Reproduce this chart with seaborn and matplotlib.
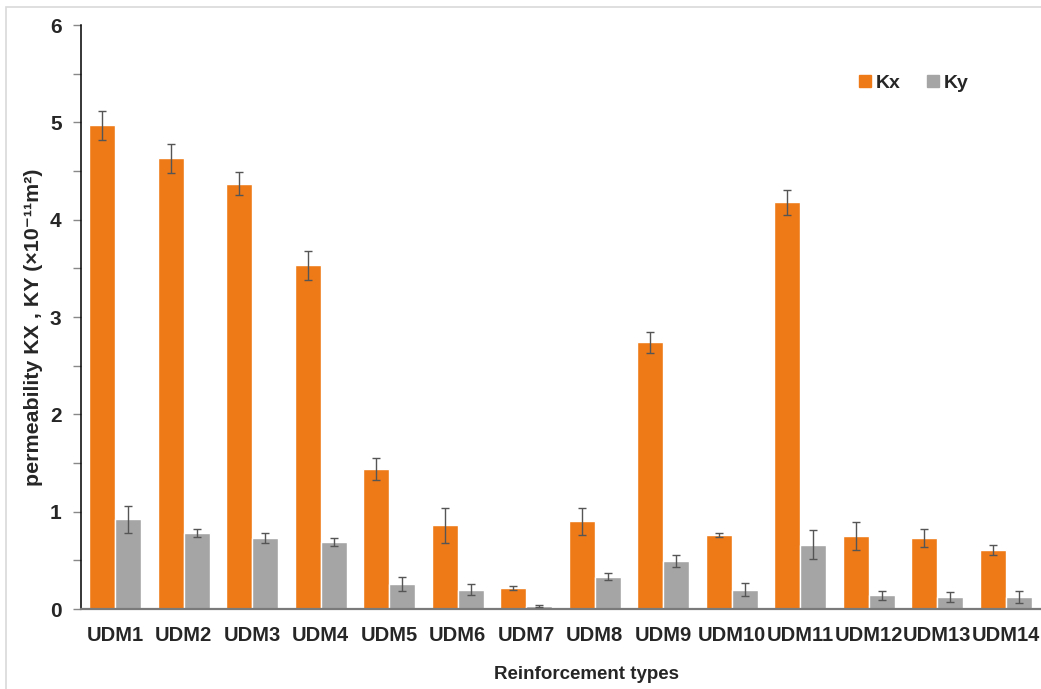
import numpy as np
import pandas as pd
import matplotlib
matplotlib.use("Agg")
import matplotlib.pyplot as plt
from matplotlib.ticker import MultipleLocator
from matplotlib.patches import Rectangle
from matplotlib.lines import Line2D
import seaborn as sns

categories = ["UDM1", "UDM2", "UDM3", "UDM4", "UDM5", "UDM6", "UDM7",
              "UDM8", "UDM9", "UDM10", "UDM11", "UDM12", "UDM13", "UDM14"]
kx = [4.97, 4.63, 4.37, 3.53, 1.44, 0.86, 0.22, 0.90, 2.74, 0.76, 4.18, 0.75, 0.73, 0.61]
kx_err = [0.15, 0.15, 0.12, 0.15, 0.11, 0.18, 0.02, 0.14, 0.11, 0.02, 0.13, 0.14, 0.09, 0.05]
ky = [0.92, 0.78, 0.73, 0.69, 0.26, 0.20, 0.03, 0.33, 0.49, 0.20, 0.66, 0.14, 0.12, 0.12]
ky_err = [0.14, 0.04, 0.05, 0.04, 0.07, 0.06, 0.01, 0.035, 0.06, 0.07, 0.15, 0.05, 0.05, 0.06]
series = ["Kx", "Ky"]
colors = {"Kx": "#EE7A17", "Ky": "#A5A5A5"}

sns.set_theme(style="white")
plt.rcParams["font.family"] = ["Liberation Sans", "DejaVu Sans"]

df = pd.DataFrame({
    "type": categories * 2,
    "series": ["Kx"] * len(categories) + ["Ky"] * len(categories),
    "value": kx + ky,
})
errs = {"Kx": kx_err, "Ky": ky_err}

fig = plt.figure(figsize=(10.41, 6.89), dpi=100)
ax = fig.add_axes([0.0778, 0.1161, 0.9212, 0.8476])

sns.barplot(data=df, x="type", y="value", hue="series", order=categories,
            hue_order=series, palette=colors, width=0.76, errorbar=None,
            saturation=1, ax=ax, legend=False)

# error bars centred on each drawn bar
for cont, s in zip(ax.containers, series):
    xs = [p.get_x() + p.get_width() / 2 for p in cont.patches]
    hs = [p.get_height() for p in cont.patches]
    ax.errorbar(xs, hs, yerr=errs[s], fmt="none", ecolor="#555555",
                elinewidth=1.0, capsize=3, capthick=1.0, zorder=5)

ax.set_xlim(-0.5, len(categories) - 0.5)
ax.set_ylim(0, 6)
ax.yaxis.set_major_locator(MultipleLocator(1))
ax.yaxis.set_minor_locator(MultipleLocator(0.5))
ax.tick_params(axis="y", which="both", left=True, length=6, width=1,
               color="#888888", pad=8)
ax.tick_params(axis="x", bottom=False, pad=6)

for lbl in ax.get_yticklabels():
    lbl.set_fontsize(15)
    lbl.set_fontweight("bold")
for lbl in ax.get_xticklabels():
    lbl.set_fontsize(14.5)
    lbl.set_fontweight("bold")

sns.despine(ax=ax, top=True, right=True)
ax.spines["left"].set_color("black")
ax.spines["left"].set_linewidth(1.1)
ax.spines["bottom"].set_color("#7a7a7a")
ax.spines["bottom"].set_linewidth(1.6)

ax.set_xlabel("Reinforcement types", fontsize=13.5, fontweight="bold")
ax.xaxis.set_label_coords(0.527, -0.113)
ax.xaxis.label.set_va("center")
ax.set_ylabel("permeability KX , KY (×10⁻¹¹m²)", fontsize=15.4,
              fontweight="bold")
ax.yaxis.set_label_coords(-0.05, 0.483)
ax.yaxis.label.set_va("center")

handles = [Line2D([0], [0], marker="s", linestyle="none", markersize=9,
                  markerfacecolor=colors[s], markeredgecolor=colors[s])
           for s in series]
ax.legend(handles, series, loc="upper right", bbox_to_anchor=(0.944, 0.946),
          ncol=2, frameon=False, handletextpad=0.05, columnspacing=1.2,
          handlelength=1.0, prop={"weight": "bold", "size": 14})

# thin outer frame
fig.patches.append(Rectangle((6 / 1041, -0.05), 1.1, 1 - 7 / 689 + 0.05,
                             transform=fig.transFigure, fill=False,
                             edgecolor="#d9d9d9", linewidth=1.2, zorder=0))

fig.savefig("out.png", dpi=100)
